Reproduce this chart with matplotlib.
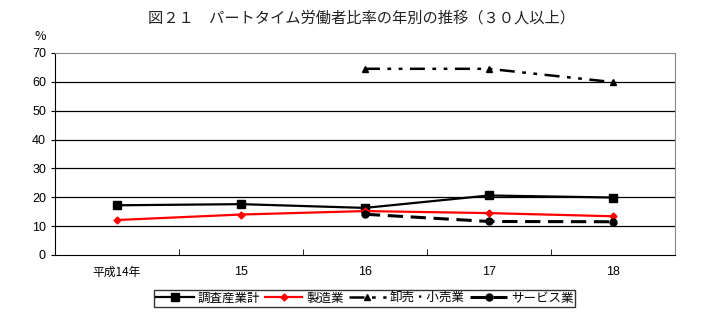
import matplotlib
matplotlib.use("Agg")
import matplotlib.pyplot as plt
import numpy as np

plt.rcParams['font.family'] = ['Noto Sans CJK JP', 'DejaVu Sans']

categories = ['平成14年', '15', '16', '17', '18']
total = [17.2, 17.6, 16.3, 20.6, 19.9]
manufacturing = [12.1, 14.0, 15.2, 14.5, 13.4]
wholesale = [None, None, 64.5, 64.5, 59.9]
services = [None, None, 14.1, 11.6, 11.5]
series_names = ['調査産業計', '製造業', '卸売・小売業', 'サービス業']
title = '図２１　パートタイム労働者比率の年別の推移（３０人以上）'

fig = plt.figure(figsize=(7.24, 3.35), dpi=100)
ax = fig.add_axes([0.076, 0.239, 0.856, 0.603])

x = np.arange(len(categories))

def arr(v):
    return np.array([np.nan if a is None else a for a in v], dtype=float)

ax.plot(x, arr(total), color='black', lw=1.6, marker='s', ms=6, label=series_names[0])
ax.plot(x, arr(manufacturing), color='red', lw=1.6, marker='D', ms=3.5, label=series_names[1])
ax.plot(x, arr(wholesale), color='black', lw=1.8, marker='^', ms=5,
        dashes=(6, 3, 1.5, 3, 1.5, 3), label=series_names[2])
ax.plot(x, arr(services), color='black', lw=2.2, marker='o', ms=5,
        dashes=(5, 2.5), label=series_names[3])

ax.set_xlim(-0.5, len(categories) - 0.5)
ax.set_ylim(0, 70)
ax.set_yticks(range(0, 71, 10))
ax.set_xticks(x)
ax.set_xticklabels(categories, fontsize=8.5)
ax.tick_params(axis='x', length=0, pad=8)
ax.tick_params(axis='y', length=3, direction='out')
for lbl in ax.get_yticklabels():
    lbl.set_fontfamily(['Liberation Sans', 'DejaVu Sans'])
    lbl.set_fontsize(9)
for lbl in ax.get_xticklabels()[1:]:
    lbl.set_fontfamily(['Liberation Sans', 'DejaVu Sans'])
    lbl.set_fontsize(9)
# minor ticks between categories on x axis, pointing inward
ax.set_xticks(x[:-1] + 0.5, minor=True)
ax.tick_params(axis='x', which='minor', direction='in', length=4, color='black')

for v in range(10, 70, 10):
    ax.axhline(v, color='black', lw=0.9, zorder=0)

ax.spines['top'].set_color('#888888')
ax.spines['right'].set_color('#888888')
ax.spines['left'].set_color('black')
ax.spines['bottom'].set_color('black')

fig.text(0.499, 0.946, title, ha='center', va='center', fontsize=11, color='#222222')
fig.text(0.055, 0.89, '%', ha='center', va='center', fontsize=9)

leg = fig.legend(loc='center', bbox_to_anchor=(0.504, 0.11), ncol=4, fontsize=9,
                 frameon=True, fancybox=False, edgecolor='black', handlelength=3.0,
                 handletextpad=0.3, columnspacing=0.4, borderpad=0.15)
leg.get_frame().set_linewidth(1.0)

fig.savefig('out.png', dpi=100)
